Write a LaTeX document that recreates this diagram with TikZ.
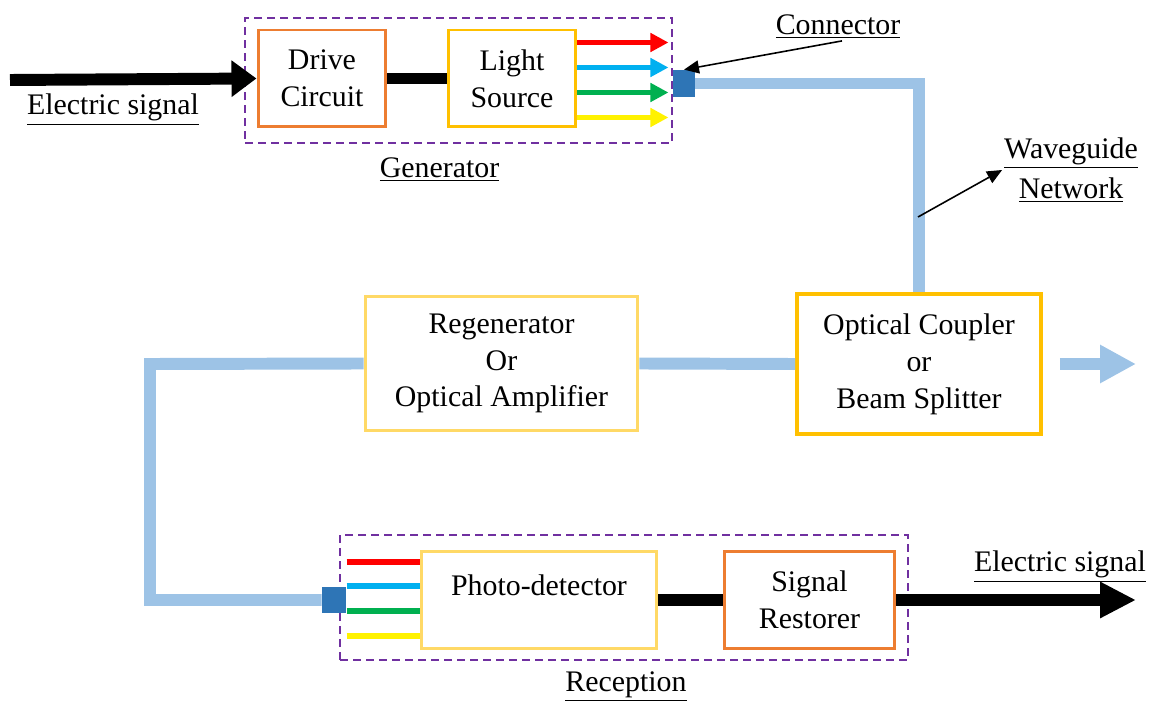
\documentclass[tikz,border=0pt]{standalone}
\usepackage{fontspec}
\setmainfont{Liberation Serif}
\usetikzlibrary{arrows.meta,calc}
\definecolor{camdam}{HTML}{ED7D31}
\definecolor{vangdam}{HTML}{FFC000}
\definecolor{vangnhat}{HTML}{FFD966}
\definecolor{tim}{HTML}{7030A0}
\definecolor{soiquang}{HTML}{9DC3E6}
\definecolor{xanhdam}{HTML}{2E75B6}
\definecolor{xanhlam}{HTML}{00B0F0}
\definecolor{xanhla}{HTML}{00B050}
\begin{document}
\begin{tikzpicture}[x=0.02cm,y=-0.02cm,line join=miter,font=\fontsize{17}{21}\selectfont,
	khoi/.style={draw,line width=1.7pt,align=center,inner sep=0pt},
	nhom/.style={draw=tim,line width=1.1pt,dash pattern=on 0.16cm off 0.1cm,inner sep=0pt},
	dau/.style={fill=xanhdam,inner sep=0pt},
	soi/.style={draw=soiquang,line width=6.8pt},
	dien/.style={draw=black,line width=6.8pt},
	nhan/.style={align=center,inner sep=1pt}]
	\useasboundingbox (0,0) rectangle (1154,702);
	\def\hb{1.94cm}
	% Khối phát
	\node[nhom,minimum width=8.54cm,minimum height=2.5cm] (gen) at (458.5,80.5) {};
	\node[khoi,draw=camdam,minimum width=2.56cm,minimum height=\hb] (drive) at (322,78.5) {Drive\\Circuit};
	\node[khoi,draw=vangdam,minimum width=2.56cm,minimum height=\hb] (light) at (512,78.5) {Light\\Source};
	\node[dau,minimum width=0.44cm,minimum height=0.54cm] (conn1) at (684,83.5) {};
	% Khối giữa
	\node[khoi,draw=vangnhat,minimum width=5.46cm,minimum height=2.7cm] (regen) at (501.5,363.5) {Regenerator\\Or\\Optical Amplifier};
	\node[khoi,draw=vangdam,line width=2.2pt,minimum width=4.88cm,minimum height=2.8cm] (coupler) at (919,364) {Optical Coupler\\or\\Beam Splitter};
	% Khối thu
	\node[nhom,minimum width=11.36cm,minimum height=2.5cm] (rec) at (624,597.5) {};
	\node[khoi,draw=vangnhat,minimum width=4.72cm,minimum height=1.96cm,text depth=0.6cm] (photo) at (539,600) {Photo-detector};
	\node[khoi,draw=camdam,minimum width=3.42cm,minimum height=1.96cm] (restorer) at (809.5,600) {Signal\\Restorer};
	\node[dau,minimum width=0.48cm,minimum height=0.54cm] (conn2) at (334,600) {};
	% Nhãn
	\node[nhan,anchor=base] (ein) at (113,115) {\underline{Electric signal}};
	\node[nhan,anchor=base] (gentxt) at (439.5,178) {\underline{Generator}};
	\node[nhan,anchor=base] (conntxt) at (838,35) {\underline{Connector}};
	\node[nhan] (wgtxt) at (1071,170) {\underline{Waveguide}\\[2pt]\underline{Network}};
	\node[nhan,anchor=base] (eouttxt) at (1060,572) {\underline{Electric signal}};
	\node[nhan,anchor=base] (rectxt) at (626,692) {\underline{Reception}};
	\coordinate (vao) at (10,80);
	\coordinate (gap) at (150,364);
	\coordinate (ra) at (1136,364);
	\coordinate (ra2) at (1136,600);
	\coordinate (wg) at (918,217);
	% Sợi quang
	\draw[soi] (conn1.east) -| (coupler.north);
	\draw[soi] (regen.east) -- (coupler.west);
	\draw[soi] (regen.west) -- (gap) |- (conn2.west);
	\draw[soi,-{Triangle[length=0.72cm,width=0.72cm]}] ($(coupler.east)+(17,0)$) -- (ra);
	% Tín hiệu điện
	\draw[dien,-{Triangle[length=0.5cm,width=0.7cm]}] (vao) -- (drive.west);
	\draw[dien] (drive.east) -- (light.west);
	\draw[dien] (photo.east) -- (restorer.west);
	\draw[dien,-{Triangle[length=0.72cm,width=0.68cm]}] (restorer.east) -- (ra2);
	% Các chùm màu
	\foreach \mau/\dy in {red/-36,xanhlam/-11,xanhla/14,yellow/39}
		\draw[\mau,line width=3.4pt,-{Triangle[length=0.36cm,width=0.36cm]}] ($(light.east)+(0,\dy)$) -- ($(light.east)+(91,\dy)$);
	\foreach \mau/\dy in {red/-38,xanhlam/-14,xanhla/11,yellow/36}
		\draw[\mau,line width=3.4pt] ($(photo.west)+(-73,\dy)$) -- ($(photo.west)+(0,\dy)$);
	% Mũi tên chỉ dẫn
	\draw[line width=0.9pt,-{Triangle[length=0.3cm,width=0.26cm]}] ($(conntxt.south)+(4,0)$) -- (conn1.north);
	\draw[line width=0.9pt,-{Triangle[length=0.3cm,width=0.26cm]}] (wg) -- (wgtxt.west);
\end{tikzpicture}
\end{document}
